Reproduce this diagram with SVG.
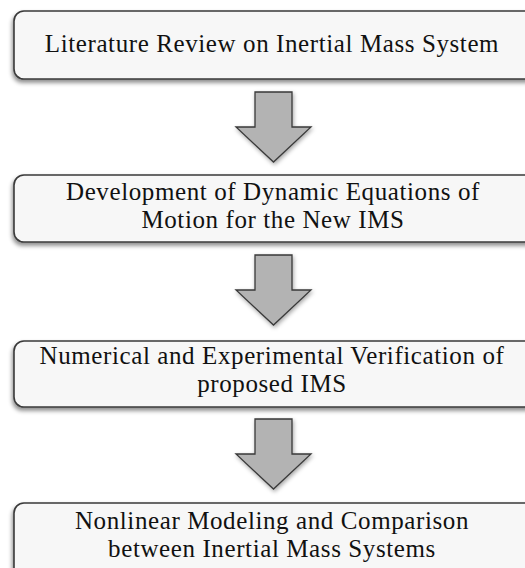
<svg xmlns="http://www.w3.org/2000/svg" width="525" height="568" viewBox="0 0 525 568">
<defs>
<filter id="sh" x="-10%" y="-20%" width="120%" height="150%">
<feDropShadow dx="-1" dy="3" stdDeviation="2" flood-color="#000" flood-opacity="0.45"/>
</filter>
<filter id="sha" x="-30%" y="-30%" width="160%" height="160%">
<feDropShadow dx="1" dy="2" stdDeviation="2" flood-color="#000" flood-opacity="0.35"/>
</filter>
</defs>
<style>
.box{fill:#f7f7f7;stroke:#3a3a3a;stroke-width:1.6;filter:url(#sh)}
.arr{fill:#b3b3b3;stroke:#3a3a3a;stroke-width:1.3;stroke-linejoin:miter;filter:url(#sha)}
.t{font-family:"Liberation Serif","Times New Roman",serif;font-size:25px;letter-spacing:0.6px;fill:#111;text-anchor:middle}
</style>
<rect width="525" height="568" fill="#ffffff"/>
<g id="connectors">
<polygon class="arr" points="255,92 292,92 292,127 311,127 273.5,162 236,127 255,127"/>
<polygon class="arr" points="255,255 292,255 292,290 311,290 273.5,325 236,290 255,290"/>
<polygon class="arr" points="255,419 292,419 292,454 311,454 273.5,489 236,454 255,454"/>
</g>
<g id="node1">
<rect class="box" x="14" y="11" width="530" height="68" rx="10"/>
<text class="t" x="272" y="52">Literature Review on Inertial Mass System</text>
</g>
<g id="node2">
<rect class="box" x="14" y="175" width="530" height="67" rx="10"/>
<text class="t" x="273" y="200">Development of Dynamic Equations of</text>
<text class="t" x="273" y="228">Motion for the New IMS</text>
</g>
<g id="node3">
<rect class="box" x="14" y="341" width="530" height="66" rx="10"/>
<text class="t" x="272" y="364">Numerical and Experimental Verification of</text>
<text class="t" x="272" y="392">proposed IMS</text>
</g>
<g id="node4">
<rect class="box" x="14" y="503" width="530" height="80" rx="10"/>
<text class="t" x="272" y="529">Nonlinear Modeling and Comparison</text>
<text class="t" x="272" y="557">between Inertial Mass Systems</text>
</g>
</svg>
